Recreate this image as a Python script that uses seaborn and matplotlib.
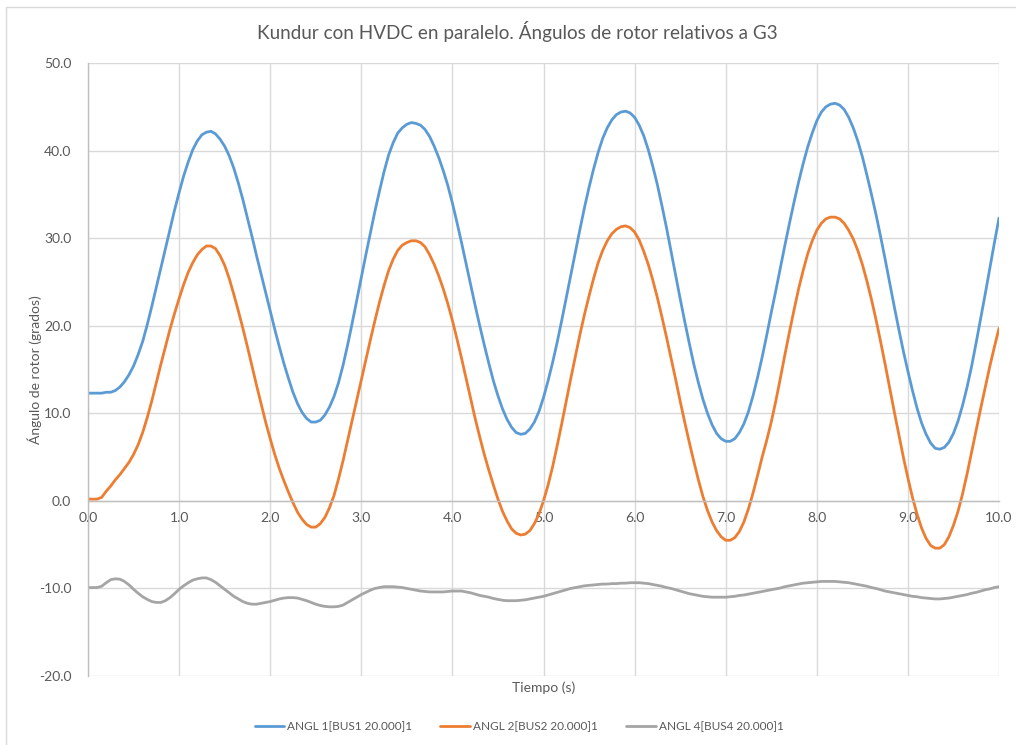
import numpy as np
import pandas as pd
import matplotlib
matplotlib.use("Agg")
import matplotlib.pyplot as plt
from matplotlib.lines import Line2D
import seaborn as sns

# Simulation time (s), 0.05 s step
tiempo = [round(0.05 * i, 2) for i in range(201)]

# ANGL 1 [BUS1 20.000] 1 (degrees)
angl1 = [
    12.3, 12.3, 12.3, 12.3, 12.4, 12.4, 12.6, 13.0, 13.6, 14.4,
    15.4, 16.7, 18.2, 20.1, 22.2, 24.4, 26.6, 28.8, 31.0, 33.2,
    35.2, 37.1, 38.7, 40.1, 41.1, 41.8, 42.1, 42.2, 41.9, 41.3,
    40.5, 39.4, 38.0, 36.3, 34.4, 32.3, 30.2, 28.0, 25.9, 23.8,
    21.7, 19.6, 17.6, 15.7, 14.0, 12.4, 11.1, 10.1, 9.4, 9.0,
    9.0, 9.2, 9.8, 10.7, 11.9, 13.5, 15.5, 17.8, 20.3, 22.9,
    25.5, 28.1, 30.6, 33.1, 35.4, 37.6, 39.5, 40.9, 42.0, 42.6,
    43.0, 43.2, 43.1, 42.9, 42.4, 41.6, 40.5, 39.2, 37.7, 36.0,
    34.0, 31.8, 29.5, 27.1, 24.7, 22.3, 20.0, 17.8, 15.7, 13.7,
    12.0, 10.5, 9.3, 8.4, 7.8, 7.6, 7.7, 8.2, 9.0, 10.2,
    11.8, 13.7, 15.8, 18.1, 20.6, 23.2, 25.8, 28.4, 31.0, 33.5,
    35.8, 37.9, 39.8, 41.4, 42.6, 43.5, 44.1, 44.4, 44.5, 44.3,
    43.8, 42.9, 41.7, 40.1, 38.2, 36.1, 33.7, 31.2, 28.5, 25.8,
    23.1, 20.5, 18.0, 15.6, 13.5, 11.6, 10.0, 8.7, 7.7, 7.1,
    6.8, 6.8, 7.1, 7.8, 8.8, 10.2, 12.0, 14.1, 16.4, 18.9,
    21.5, 24.0, 26.6, 29.2, 31.7, 34.1, 36.4, 38.5, 40.4, 42.0,
    43.4, 44.4, 45.0, 45.3, 45.4, 45.2, 44.7, 43.8, 42.6, 41.1,
    39.3, 37.2, 35.0, 32.7, 30.2, 27.6, 24.9, 22.2, 19.6, 17.1,
    14.8, 12.6, 10.6, 8.9, 7.6, 6.6, 6.0, 5.9, 6.1, 6.7,
    7.7, 9.1, 10.9, 13.0, 15.4, 18.1, 20.9, 23.7, 26.6, 29.5,
    32.3,
]

# ANGL 2 [BUS2 20.000] 1 (degrees)
angl2 = [
    0.2, 0.2, 0.2, 0.4, 1.1, 1.7, 2.4, 3.0, 3.7, 4.4,
    5.3, 6.4, 7.8, 9.5, 11.4, 13.5, 15.6, 17.6, 19.6, 21.4,
    23.1, 24.7, 26.1, 27.2, 28.1, 28.7, 29.1, 29.1, 28.8, 28.0,
    26.9, 25.4, 23.6, 21.7, 19.7, 17.6, 15.4, 13.2, 11.1, 9.0,
    7.1, 5.3, 3.7, 2.3, 1.0, -0.2, -1.3, -2.1, -2.7, -3.0,
    -3.0, -2.6, -1.9, -0.8, 0.6, 2.5, 4.6, 6.9, 9.2, 11.5,
    13.8, 16.1, 18.4, 20.6, 22.7, 24.6, 26.3, 27.6, 28.6, 29.2,
    29.5, 29.7, 29.7, 29.5, 29.0, 28.1, 27.0, 25.7, 24.2, 22.5,
    20.6, 18.5, 16.3, 14.0, 11.7, 9.4, 7.3, 5.3, 3.5, 1.8,
    0.2, -1.2, -2.3, -3.2, -3.7, -3.9, -3.8, -3.4, -2.6, -1.5,
    0.0, 1.8, 3.9, 6.3, 8.8, 11.4, 14.0, 16.5, 19.0, 21.3,
    23.4, 25.4, 27.2, 28.6, 29.7, 30.5, 31.0, 31.3, 31.4, 31.2,
    30.7, 29.8, 28.5, 27.0, 25.2, 23.2, 21.0, 18.7, 16.3, 13.9,
    11.4, 9.0, 6.7, 4.5, 2.4, 0.5, -1.1, -2.4, -3.4, -4.1,
    -4.5, -4.5, -4.2, -3.5, -2.4, -0.9, 0.9, 2.9, 5.0, 6.9,
    9.0, 11.4, 14.0, 16.7, 19.3, 21.8, 24.2, 26.3, 28.2, 29.7,
    30.9, 31.7, 32.2, 32.4, 32.4, 32.2, 31.7, 30.9, 29.9, 28.6,
    27.0, 25.1, 23.0, 20.7, 18.2, 15.6, 12.9, 10.2, 7.6, 5.0,
    2.6, 0.4, -1.5, -3.1, -4.3, -5.1, -5.4, -5.4, -5.0, -4.1,
    -2.8, -1.2, 0.8, 3.1, 5.6, 8.1, 10.6, 13.0, 15.4, 17.6,
    19.7,
]

# ANGL 4 [BUS4 20.000] 1 (degrees)
angl4 = [
    -9.9, -9.9, -9.9, -9.75, -9.35, -9.0, -8.9, -8.95, -9.2, -9.6,
    -10.1, -10.55, -10.95, -11.25, -11.5, -11.6, -11.6, -11.4, -11.05, -10.6,
    -10.1, -9.7, -9.35, -9.05, -8.9, -8.8, -8.8, -9.0, -9.3, -9.7,
    -10.1, -10.5, -10.9, -11.2, -11.5, -11.7, -11.8, -11.8, -11.7, -11.6,
    -11.5, -11.35, -11.2, -11.1, -11.05, -11.05, -11.1, -11.25, -11.4, -11.6,
    -11.8, -11.95, -12.05, -12.1, -12.1, -12.05, -11.9, -11.6, -11.3, -11.0,
    -10.7, -10.45, -10.2, -10.0, -9.9, -9.8, -9.8, -9.8, -9.85, -9.9,
    -10.0, -10.1, -10.2, -10.3, -10.35, -10.4, -10.4, -10.4, -10.4, -10.35,
    -10.3, -10.3, -10.3, -10.4, -10.5, -10.65, -10.8, -10.9, -11.0, -11.15,
    -11.25, -11.35, -11.4, -11.4, -11.4, -11.35, -11.3, -11.2, -11.1, -11.0,
    -10.9, -10.75, -10.6, -10.45, -10.3, -10.15, -10.0, -9.9, -9.8, -9.7,
    -9.65, -9.6, -9.55, -9.5, -9.5, -9.45, -9.45, -9.4, -9.4, -9.35,
    -9.35, -9.35, -9.4, -9.45, -9.55, -9.65, -9.75, -9.9, -10.0, -10.15,
    -10.3, -10.45, -10.6, -10.7, -10.8, -10.9, -10.95, -11.0, -11.0, -11.0,
    -11.0, -10.95, -10.9, -10.8, -10.75, -10.65, -10.55, -10.45, -10.35, -10.25,
    -10.15, -10.05, -9.95, -9.8, -9.7, -9.6, -9.5, -9.4, -9.35, -9.3,
    -9.25, -9.2, -9.2, -9.2, -9.2, -9.25, -9.3, -9.35, -9.45, -9.55,
    -9.65, -9.75, -9.9, -10.0, -10.15, -10.3, -10.4, -10.5, -10.6, -10.7,
    -10.8, -10.9, -10.95, -11.05, -11.1, -11.15, -11.2, -11.2, -11.15, -11.1,
    -11.0, -10.9, -10.8, -10.7, -10.55, -10.45, -10.3, -10.15, -10.05, -9.9,
    -9.8,
]

series_names = [
    "ANGL 1[BUS1 20.000]1",
    "ANGL 2[BUS2 20.000]1",
    "ANGL 4[BUS4 20.000]1",
]
series_colors = ["#5B9BD5", "#ED7D31", "#A5A5A5"]

x_ticks = [0, 1, 2, 3, 4, 5, 6, 7, 8, 9, 10]
y_ticks = [-20, -10, 0, 10, 20, 30, 40, 50]

df = pd.concat(
    [
        pd.DataFrame({"Tiempo": tiempo, "Angulo": vals, "Serie": name})
        for name, vals in zip(series_names, [angl1, angl2, angl4])
    ],
    ignore_index=True,
)

sns.set_theme(style="white")
plt.rcParams["font.family"] = ["Lato", "DejaVu Sans"]

text_color = "#595959"
grid_color = "#D9D9D9"
axis_color = "#BFBFBF"

fig = plt.figure(figsize=(10.16, 7.45), dpi=100)
fig.patch.set_facecolor("white")
ax = fig.add_axes([88 / 1016, 1 - 676 / 745, (999 - 88) / 1016, (676 - 63) / 745])

sns.lineplot(
    data=df, x="Tiempo", y="Angulo", hue="Serie",
    palette=dict(zip(series_names, series_colors)),
    linewidth=2.0, ax=ax, legend=False, sort=False,
)
for line in ax.get_lines():
    line.set_solid_joinstyle("round")
    line.set_solid_capstyle("round")

ax.set_xlim(0, 10)
ax.set_ylim(-20, 50)
ax.set_xticks(x_ticks)
ax.set_yticks(y_ticks)
ax.set_xticklabels([f"{v:.1f}" for v in x_ticks])
ax.set_yticklabels([f"{v:.1f}" for v in y_ticks])

ax.grid(True, color=grid_color, linewidth=1.0)
ax.set_axisbelow(True)

for side in ["top", "right"]:
    ax.spines[side].set_visible(False)
ax.spines["left"].set_color(axis_color)
ax.spines["left"].set_linewidth(1.0)
ax.spines["bottom"].set_position(("data", 0))
ax.spines["bottom"].set_color(axis_color)
ax.spines["bottom"].set_linewidth(1.0)

ax.tick_params(axis="both", length=0, labelsize=10, labelcolor=text_color)
ax.tick_params(axis="x", pad=8)
ax.tick_params(axis="y", pad=12)

ax.set_xlabel("")
ax.set_ylabel("")
fig.text(543.5 / 1016, 1 - 688 / 745, "Tiempo (s)", ha="center", va="center",
         fontsize=10, color=text_color)
fig.text(35 / 1016, 1 - 370 / 745, "Ángulo de rotor (grados)", ha="center",
         va="center", rotation=90, fontsize=10, color=text_color)
fig.text(517 / 1016, 1 - 32 / 745,
         "Kundur con HVDC en paralelo. Ángulos de rotor relativos a G3",
         ha="center", va="center", fontsize=13.6, color=text_color)

handles = [Line2D([0], [0], color=c, linewidth=2.0) for c in series_colors]
fig.legend(handles, series_names, loc="center", bbox_to_anchor=(519 / 1016, 1 - 727 / 745),
           ncol=3, frameon=False, fontsize=8.5, labelcolor=text_color,
           handlelength=2.5, handletextpad=0.25, columnspacing=2.4)

# chart-area frame (left and top edges)
fig.add_artist(Line2D([6 / 1016, 6 / 1016], [0, 1 - 7 / 745], color=grid_color,
                      linewidth=1.0, transform=fig.transFigure))
fig.add_artist(Line2D([6 / 1016, 1], [1 - 7 / 745, 1 - 7 / 745], color=grid_color,
                      linewidth=1.0, transform=fig.transFigure))

fig.savefig("out.png", dpi=100, facecolor="white")
